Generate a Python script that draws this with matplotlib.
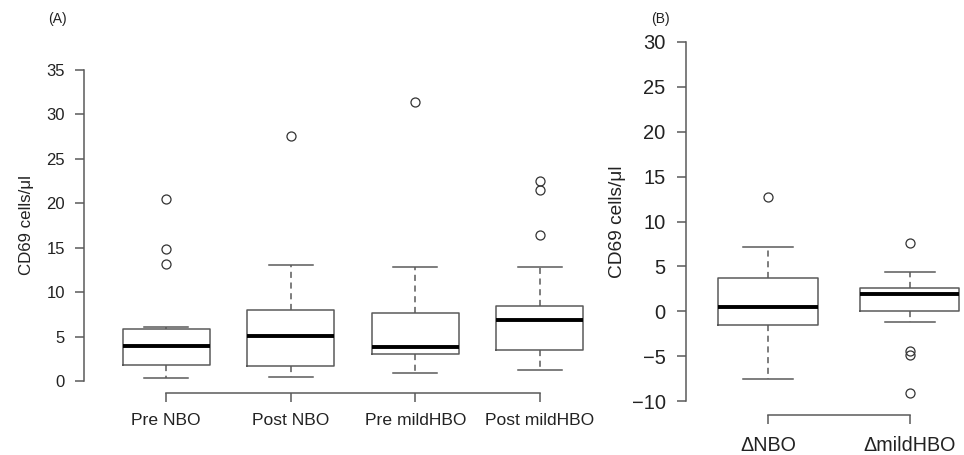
import matplotlib
matplotlib.use("Agg")
import matplotlib.pyplot as plt

plt.rcParams['font.family'] = ['Liberation Sans', 'DejaVu Sans']

# panel A: CD69 cells/ul before / after
groups_a = ["Pre NBO", "Post NBO", "Pre mildHBO", "Post mildHBO"]
whislo_a = [0.3, 0.4, 0.9, 1.25]
q1_a = [1.8, 1.7, 3.0, 3.5]
med_a = [3.9, 5.1, 3.85, 6.85]
q3_a = [5.9, 8.0, 7.6, 8.45]
whishi_a = [6.1, 13.0, 12.85, 12.8]
fliers_a = [[13.2, 14.8, 20.5], [27.6], [31.4], [16.4, 21.5, 22.5]]

# panel B: differences
groups_b = ["ΔNBO", "ΔmildHBO"]
whislo_b = [-7.6, -1.25]
q1_b = [-1.5, 0.08]
med_b = [0.48, 1.87]
q3_b = [3.73, 2.6]
whishi_b = [7.2, 4.4]
fliers_b = [[12.7], [-9.15, -4.85, -4.4, 7.6]]

GREY = "#5a5a5a"


def make_stats(labels, lo, q1, med, q3, hi, fl):
    out = []
    for i in range(len(labels)):
        out.append(dict(label=labels[i], whislo=lo[i], q1=q1[i], med=med[i],
                        q3=q3[i], whishi=hi[i], fliers=fl[i]))
    return out


def draw(ax, stats, ylim, yticks, fs_y, fs_x, fs_lab, ypad, xpad, labpad):
    n = len(stats)
    ax.bxp(stats, positions=range(1, n + 1), widths=0.7, showfliers=True,
           boxprops=dict(color=GREY, linewidth=1.1),
           medianprops=dict(color="black", linewidth=2.8),
           whiskerprops=dict(color=GREY, linewidth=1.1, linestyle=(0, (4, 3))),
           capprops=dict(color=GREY, linewidth=1.1),
           capwidths=0.35,
           flierprops=dict(marker="o", markerfacecolor="none", markeredgecolor="#333333",
                           markersize=6.5, markeredgewidth=0.9))
    pad = (ylim[1] - ylim[0]) * 0.04
    ax.set_ylim(ylim[0] - pad, ylim[1] + pad)
    ax.set_xlim(0.5 - n * 0.04, n + 0.5 + n * 0.04)
    for s in ["top", "right"]:
        ax.spines[s].set_visible(False)
    ax.spines["left"].set_bounds(ylim[0], ylim[1])
    ax.spines["bottom"].set_bounds(1, n)
    for s in ["left", "bottom"]:
        ax.spines[s].set_color(GREY)
        ax.spines[s].set_linewidth(1.1)
    ax.set_yticks(yticks)
    ax.set_xticks(range(1, n + 1))
    ax.set_xticklabels([s["label"] for s in stats])
    ax.tick_params(axis="both", colors=GREY, length=6.8, width=1.1, labelcolor="#222222")
    ax.tick_params(axis="y", labelsize=fs_y, pad=ypad)
    ax.tick_params(axis="x", labelsize=fs_x, pad=xpad)
    ax.set_ylabel("CD69 cells/μl", fontsize=fs_lab, color="#222222", labelpad=labpad)


fig = plt.figure(figsize=(9.64, 4.55), dpi=100)

ax_a = fig.add_axes([84 / 964, 1 - 393.4 / 455, (622 - 84) / 964, (393.4 - 57.6) / 455])
draw(ax_a, make_stats(groups_a, whislo_a, q1_a, med_a, q3_a, whishi_a, fliers_a),
     (0, 35), range(0, 36, 5), 12, 12.6, 12.2, 7, 7, 9)

ax_b = fig.add_axes([685.6 / 964, 1 - 415.4 / 455, (992 - 685.6) / 964, (415.4 - 27.6) / 455])
draw(ax_b, make_stats(groups_b, whislo_b, q1_b, med_b, q3_b, whishi_b, fliers_b),
     (-10, 30), range(-10, 31, 5), 14.5, 14.2, 13.8, 7.5, 8, 4)

fig.text(48 / 964, 1 - 19 / 455, "(A)", fontsize=10, va="center", color="#222222")
fig.text(651 / 964, 1 - 19 / 455, "(B)", fontsize=10, va="center", color="#222222")

fig.savefig("out.png", dpi=100)
